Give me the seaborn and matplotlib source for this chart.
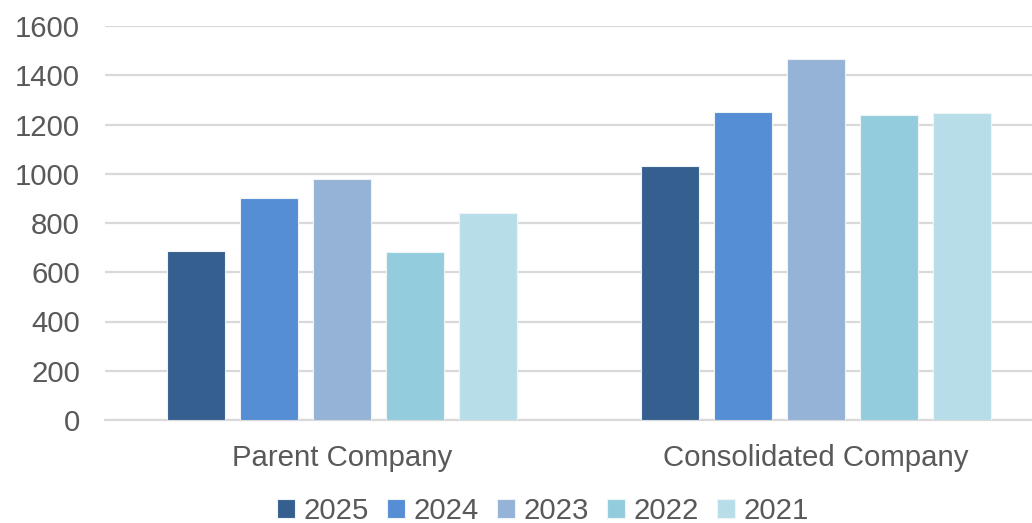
import matplotlib
matplotlib.use("Agg")
import matplotlib.pyplot as plt
import seaborn as sns
import pandas as pd

# Values per company and year
companies = ["Parent Company", "Consolidated Company"]
years = ["2025", "2024", "2023", "2022", "2021"]
parent_values = [686, 900, 980, 684, 841]
consolidated_values = [1032, 1249, 1465, 1237, 1245]
palette = ["#355F8F", "#558ED5", "#95B3D7", "#93CDDD", "#B7DEE8"]
y_ticks = [0, 200, 400, 600, 800, 1000, 1200, 1400, 1600]

rows = []
for yr, v in zip(years, parent_values):
    rows.append({"company": companies[0], "year": yr, "value": v})
for yr, v in zip(years, consolidated_values):
    rows.append({"company": companies[1], "year": yr, "value": v})
df = pd.DataFrame(rows)

sns.set_theme(style="white")
plt.rcParams["font.family"] = ["Liberation Sans", "DejaVu Sans"]

fig = plt.figure(figsize=(10.32, 5.23), dpi=100)
ax = fig.add_axes([105 / 1032, 1 - 420 / 523, (1032 - 105) / 1032, (420 - 26) / 523])

sns.barplot(data=df, x="company", y="value", hue="year", hue_order=years,
            order=companies, palette=palette, saturation=1, width=0.77, gap=0.2,
            edgecolor="#EEF3F8", linewidth=0.8, ax=ax, legend=True, zorder=3)

ax.set_ylim(0, 1600)
ax.set_xlim(-0.5, 1.456)
ax.set_yticks(y_ticks)
ax.set_yticklabels([str(t) for t in y_ticks])
ax.yaxis.grid(True, color="#D9D9D9", linewidth=1.6, zorder=0)
ax.set_axisbelow(True)
for s in ax.spines.values():
    s.set_visible(False)
ax.spines["bottom"].set_visible(True)
ax.spines["bottom"].set_color("#D9D9D9")
ax.spines["bottom"].set_linewidth(1.6)

ax.set_xlabel("")
ax.set_ylabel("")
ax.tick_params(axis="y", length=0, pad=18, labelsize=21.2, labelcolor="#595959")
ax.tick_params(axis="x", length=0, pad=17, labelsize=21.2, labelcolor="#595959")

handles, labels = ax.get_legend_handles_labels()
ax.legend_.remove()
fig.legend(handles, labels, loc="center", bbox_to_anchor=(543 / 1032, 1 - 511 / 523),
           ncol=5, frameon=False, fontsize=21.2, labelcolor="#595959",
           handlelength=0.6, handleheight=0.6, handletextpad=0.3,
           columnspacing=0.62, borderaxespad=0)

fig.savefig("out.png", dpi=100)
